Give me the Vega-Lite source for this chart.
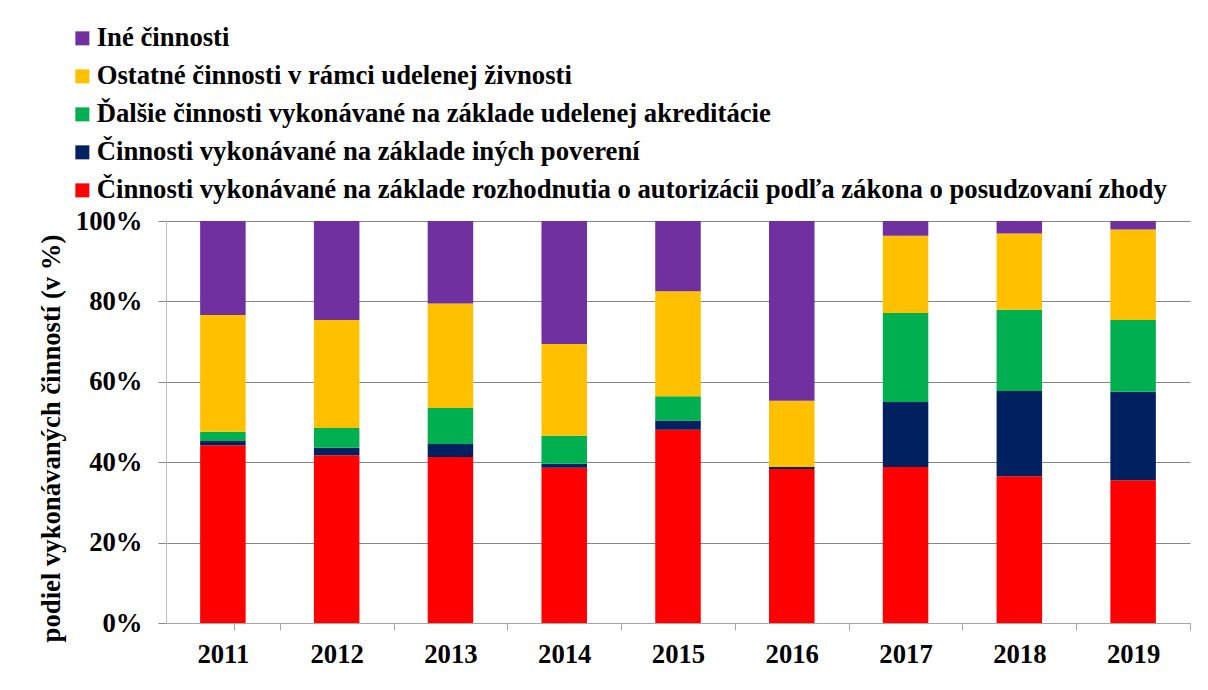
{
  "$schema": "https://vega.github.io/schema/vega-lite/v6.json",
  "width": 1024,
  "height": 402,
  "autosize": {"type": "none"},
  "padding": {"left": 166, "top": 221, "right": 18, "bottom": 67},
  "background": "white",
  "config": {
    "view": {"stroke": null},
    "font": "Liberation Serif"
  },
  "data": {
    "values": [
      {"rok": "2011", "kategoria": "Činnosti vykonávané na základe rozhodnutia o autorizácii podľa zákona o posudzovaní zhody", "podiel": 44.2, "poradie": 1},
      {"rok": "2011", "kategoria": "Činnosti vykonávané na základe iných poverení", "podiel": 1.1, "poradie": 2},
      {"rok": "2011", "kategoria": "Ďalšie činnosti vykonávané na základe udelenej akreditácie", "podiel": 2.3, "poradie": 3},
      {"rok": "2011", "kategoria": "Ostatné činnosti v rámci udelenej živnosti", "podiel": 29.0, "poradie": 4},
      {"rok": "2011", "kategoria": "Iné činnosti", "podiel": 23.4, "poradie": 5},
      {"rok": "2012", "kategoria": "Činnosti vykonávané na základe rozhodnutia o autorizácii podľa zákona o posudzovaní zhody", "podiel": 41.7, "poradie": 1},
      {"rok": "2012", "kategoria": "Činnosti vykonávané na základe iných poverení", "podiel": 1.9, "poradie": 2},
      {"rok": "2012", "kategoria": "Ďalšie činnosti vykonávané na základe udelenej akreditácie", "podiel": 4.9, "poradie": 3},
      {"rok": "2012", "kategoria": "Ostatné činnosti v rámci udelenej živnosti", "podiel": 26.9, "poradie": 4},
      {"rok": "2012", "kategoria": "Iné činnosti", "podiel": 24.6, "poradie": 5},
      {"rok": "2013", "kategoria": "Činnosti vykonávané na základe rozhodnutia o autorizácii podľa zákona o posudzovaní zhody", "podiel": 41.3, "poradie": 1},
      {"rok": "2013", "kategoria": "Činnosti vykonávané na základe iných poverení", "podiel": 3.2, "poradie": 2},
      {"rok": "2013", "kategoria": "Ďalšie činnosti vykonávané na základe udelenej akreditácie", "podiel": 9.0, "poradie": 3},
      {"rok": "2013", "kategoria": "Ostatné činnosti v rámci udelenej živnosti", "podiel": 26.0, "poradie": 4},
      {"rok": "2013", "kategoria": "Iné činnosti", "podiel": 20.5, "poradie": 5},
      {"rok": "2014", "kategoria": "Činnosti vykonávané na základe rozhodnutia o autorizácii podľa zákona o posudzovaní zhody", "podiel": 38.6, "poradie": 1},
      {"rok": "2014", "kategoria": "Činnosti vykonávané na základe iných poverení", "podiel": 1.0, "poradie": 2},
      {"rok": "2014", "kategoria": "Ďalšie činnosti vykonávané na základe udelenej akreditácie", "podiel": 7.0, "poradie": 3},
      {"rok": "2014", "kategoria": "Ostatné činnosti v rámci udelenej živnosti", "podiel": 22.8, "poradie": 4},
      {"rok": "2014", "kategoria": "Iné činnosti", "podiel": 30.6, "poradie": 5},
      {"rok": "2015", "kategoria": "Činnosti vykonávané na základe rozhodnutia o autorizácii podľa zákona o posudzovaní zhody", "podiel": 48.1, "poradie": 1},
      {"rok": "2015", "kategoria": "Činnosti vykonávané na základe iných poverení", "podiel": 2.3, "poradie": 2},
      {"rok": "2015", "kategoria": "Ďalšie činnosti vykonávané na základe udelenej akreditácie", "podiel": 6.0, "poradie": 3},
      {"rok": "2015", "kategoria": "Ostatné činnosti v rámci udelenej živnosti", "podiel": 26.1, "poradie": 4},
      {"rok": "2015", "kategoria": "Iné činnosti", "podiel": 17.5, "poradie": 5},
      {"rok": "2016", "kategoria": "Činnosti vykonávané na základe rozhodnutia o autorizácii podľa zákona o posudzovaní zhody", "podiel": 38.3, "poradie": 1},
      {"rok": "2016", "kategoria": "Činnosti vykonávané na základe iných poverení", "podiel": 0.5, "poradie": 2},
      {"rok": "2016", "kategoria": "Ďalšie činnosti vykonávané na základe udelenej akreditácie", "podiel": 0.0, "poradie": 3},
      {"rok": "2016", "kategoria": "Ostatné činnosti v rámci udelenej živnosti", "podiel": 16.5, "poradie": 4},
      {"rok": "2016", "kategoria": "Iné činnosti", "podiel": 44.7, "poradie": 5},
      {"rok": "2017", "kategoria": "Činnosti vykonávané na základe rozhodnutia o autorizácii podľa zákona o posudzovaní zhody", "podiel": 38.8, "poradie": 1},
      {"rok": "2017", "kategoria": "Činnosti vykonávané na základe iných poverení", "podiel": 16.2, "poradie": 2},
      {"rok": "2017", "kategoria": "Ďalšie činnosti vykonávané na základe udelenej akreditácie", "podiel": 22.1, "poradie": 3},
      {"rok": "2017", "kategoria": "Ostatné činnosti v rámci udelenej živnosti", "podiel": 19.2, "poradie": 4},
      {"rok": "2017", "kategoria": "Iné činnosti", "podiel": 3.7, "poradie": 5},
      {"rok": "2018", "kategoria": "Činnosti vykonávané na základe rozhodnutia o autorizácii podľa zákona o posudzovaní zhody", "podiel": 36.5, "poradie": 1},
      {"rok": "2018", "kategoria": "Činnosti vykonávané na základe iných poverení", "podiel": 21.2, "poradie": 2},
      {"rok": "2018", "kategoria": "Ďalšie činnosti vykonávané na základe udelenej akreditácie", "podiel": 20.2, "poradie": 3},
      {"rok": "2018", "kategoria": "Ostatné činnosti v rámci udelenej živnosti", "podiel": 19.0, "poradie": 4},
      {"rok": "2018", "kategoria": "Iné činnosti", "podiel": 3.1, "poradie": 5},
      {"rok": "2019", "kategoria": "Činnosti vykonávané na základe rozhodnutia o autorizácii podľa zákona o posudzovaní zhody", "podiel": 35.5, "poradie": 1},
      {"rok": "2019", "kategoria": "Činnosti vykonávané na základe iných poverení", "podiel": 22.0, "poradie": 2},
      {"rok": "2019", "kategoria": "Ďalšie činnosti vykonávané na základe udelenej akreditácie", "podiel": 17.9, "poradie": 3},
      {"rok": "2019", "kategoria": "Ostatné činnosti v rámci udelenej živnosti", "podiel": 22.5, "poradie": 4},
      {"rok": "2019", "kategoria": "Iné činnosti", "podiel": 2.1, "poradie": 5}
    ]
  },
  "mark": {"type": "bar"},
  "encoding": {
    "x": {
      "field": "rok",
      "type": "nominal",
      "scale": {"paddingInner": 0.6, "paddingOuter": 0.3},
      "axis": {
        "title": null,
        "labelAngle": 0,
        "labelFont": "Liberation Serif",
        "labelFontWeight": "bold",
        "labelFontSize": 26.7,
        "labelColor": "black",
        "labelPadding": 11,
        "tickSize": 7,
        "tickColor": "#A6A6A6",
        "domainColor": "#A6A6A6",
        "bandPosition": 1,
        "tickExtra": true,
        "tickOffset": 34.13,
        "labelOffset": -34.13,
        "grid": false
      }
    },
    "y": {
      "field": "podiel",
      "type": "quantitative",
      "stack": "normalize",
      "scale": {"domain": [0, 1]},
      "axis": {
        "title": "podiel vykonávaných činností (v %)",
        "titleFont": "Liberation Serif",
        "titleFontWeight": "bold",
        "titleFontSize": 26.7,
        "titleColor": "black",
        "titlePadding": 10,
        "titleY": 217,
        "values": [0, 0.2, 0.4, 0.6, 0.8, 1],
        "format": ".0%",
        "labelFont": "Liberation Serif",
        "labelFontWeight": "bold",
        "labelFontSize": 26.7,
        "labelColor": "black",
        "labelPadding": 16,
        "tickSize": 8,
        "tickColor": "#868686",
        "domainColor": "#BFBFBF",
        "grid": true,
        "gridColor": "#868686",
        "gridWidth": 1
      }
    },
    "color": {
      "field": "kategoria",
      "type": "nominal",
      "scale": {
        "domain": [
          "Iné činnosti",
          "Ostatné činnosti v rámci udelenej živnosti",
          "Ďalšie činnosti vykonávané na základe udelenej akreditácie",
          "Činnosti vykonávané na základe iných poverení",
          "Činnosti vykonávané na základe rozhodnutia o autorizácii podľa zákona o posudzovaní zhody"
        ],
        "range": ["#7030A0", "#FFC000", "#00B050", "#002060", "#FF0000"]
      },
      "legend": {
        "title": null,
        "orient": "none",
        "legendX": -97,
        "legendY": -196,
        "padding": 0,
        "symbolType": "square",
        "symbolSize": 196,
        "symbolStrokeWidth": 0,
        "symbolOpacity": 1,
        "labelFont": "Liberation Serif",
        "labelFontWeight": "bold",
        "labelFontSize": 26.7,
        "labelColor": "black",
        "labelLimit": 2000,
        "labelOffset": 1,
        "rowPadding": 10
      }
    },
    "order": {"field": "poradie", "type": "quantitative", "sort": "ascending"}
  }
}
